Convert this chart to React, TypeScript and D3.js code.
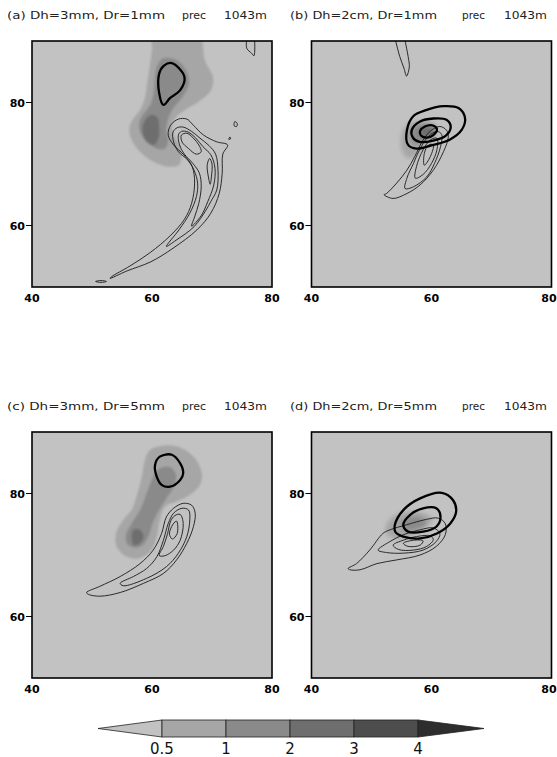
import React from "react";
import * as d3 from "d3";

type Pt = [number, number];

// ---------- axes / legend data ----------
const lonDomain: [number, number] = [40, 80];
const latDomain: [number, number] = [50, 90];
const lonTicks = [40, 60, 80];
const latTicks = [60, 80];
const shadeLevels = [0.5, 1, 2, 3, 4];
const shadeColors = ["#c2c2c2", "#a6a6a6", "#8a8a8a", "#6e6e6e", "#4d4d4d", "#2d2d2d"];
const panelTags = ["(a)", "(b)", "(c)", "(d)"];
const panelCases = ["Dh=3mm, Dr=1mm", "Dh=2cm, Dr=1mm", "Dh=3mm, Dr=5mm", "Dh=2cm, Dr=5mm"];
const fieldName = "prec";
const levelName = "1043m";

// ---------- panel (a) ----------
const aShade05: Pt[] = [[60.0,91],[67.8,91],[68.8,86.9],[70.2,83.9],[69.7,81.8],[67.7,80.1],[65.5,78.8],[63.8,77.4],[63.3,75.8],[63.8,74.4],[64.7,72.8],[64.9,70.9],[64.4,69.8],[62.4,69.6],[60.2,70.4],[58.0,72.0],[56.6,73.9],[56.2,75.8],[56.9,77.4],[58.0,78.8],[58.8,80.7],[59.2,83.1],[59.7,86.4],[60.0,89.0]];
const aShade1: Pt[] = [[61.9,87.2],[64.1,86.9],[65.8,85.0],[66.1,82.8],[64.9,80.7],[63.6,79.1],[62.7,77.4],[62.4,75.5],[62.7,73.6],[62.1,72.5],[60.8,72.5],[59.1,73.6],[58.0,75.3],[57.9,76.9],[58.6,78.2],[59.7,79.6],[60.3,81.8],[60.5,84.2],[60.9,86.1]];
const aShade2: Pt[] = [[59.9,78.0],[60.9,77.6],[61.2,76.1],[61.1,74.2],[60.3,73.1],[59.1,73.6],[58.4,75.3],[58.7,76.9]];
const aThick1: Pt[] = [[63.3,86.4],[65.4,84.2],[64.7,82.0],[63.0,80.7],[61.9,79.6],[61.2,81.5],[61.2,84.7],[62.0,86.0]];
const aThin1: Pt[] = [[53.0,51.4],[55.8,52.6],[59.8,54.1],[63.5,56.3],[67.5,59.3],[69.8,62.0],[71.2,65.2],[71.7,68.5],[71.8,71.6],[72.6,73.1],[70.8,73.6],[68.6,74.7],[66.9,76.3],[65.8,77.3],[64.4,77.3],[63.1,76.3],[62.7,74.7],[63.6,73.1],[65.3,71.5],[66.7,69.6],[67.1,66.9],[66.6,63.6],[65.4,61.0],[63.0,58.3],[59.7,55.6],[56.3,53.4],[53.3,51.7]];
const aThin2: Pt[] = [[62.4,56.6],[64.5,59.3],[66.3,62.0],[67.4,64.7],[67.6,66.9],[67.0,69.0],[65.9,70.7],[64.4,72.0],[63.6,73.6],[63.5,75.2],[64.2,75.9],[65.2,76.0],[66.6,75.3],[68.0,74.2],[69.5,73.0],[70.6,71.6],[71.0,69.0],[70.8,65.8],[69.8,63.9],[69.0,62.5],[67.0,59.8],[64.0,57.6]];
const aThin3: Pt[] = [[66.6,59.9],[67.1,61.4],[67.8,63.6],[68.2,66.3],[67.9,68.5],[66.8,70.1],[65.4,71.6],[64.6,73.1],[64.4,74.7],[64.9,75.3],[66.0,75.2],[67.3,74.2],[68.5,72.8],[69.8,71.5],[70.5,69.3],[70.3,66.6],[69.3,63.9],[68.2,61.6]];
const aThin4: Pt[] = [[64.9,74.7],[65.8,75.0],[66.9,74.2],[67.8,73.1],[68.2,72.0],[67.4,71.6],[66.1,72.5],[65.0,73.6]];
const aThin5: Pt[] = [[69.6,70.9],[70.0,70.0],[69.9,67.9],[69.7,66.7],[69.4,67.9],[69.2,69.8]];
const aThin6: Pt[] = [[50.6,50.9],[51.5,51.05],[52.4,50.9],[51.5,50.75]];
const aThin7: Pt[] = [[73.7,76.2],[73.8,76.9],[74.2,76.6],[74.1,76.1]];
const aThin8: Pt[] = [[72.8,74.0],[73.0,74.4],[73.1,74.1]];
const aOpen1: Pt[] = [[75.8,90.5],[75.8,88.8],[76.6,88.0],[77.0,87.6],[77.1,90.5]];

// ---------- panel (b) ----------
const bShade05: Pt[] = [[55.3,75.5],[56.6,76.7],[59.2,77.0],[60.9,76.1],[60.3,74.4],[58.6,73.1],[57.5,71.5],[56.1,70.9],[55.0,72.5]];
const bShade1: Pt[] = [[56.7,75.8],[58.6,76.5],[60.4,76.1],[60.2,74.7],[58.6,73.6],[57.2,73.1],[56.5,74.4]];
const bShade2: Pt[] = [[58.1,75.8],[59.5,76.1],[60.6,75.7],[60.2,74.7],[58.9,74.1],[58.1,74.7]];
const bThick1: Pt[] = [[55.9,75.5],[57.0,77.8],[59.2,78.8],[62.0,79.4],[64.5,79.1],[65.6,77.4],[65.0,75.5],[63.1,74.0],[60.3,73.1],[57.5,72.5],[56.1,73.1]];
const bThick2: Pt[] = [[56.7,75.5],[58.1,76.9],[60.3,77.4],[62.5,77.2],[63.2,76.0],[62.4,74.6],[60.3,73.8],[58.0,73.6],[56.9,74.3]];
const bThick3: Pt[] = [[58.1,75.4],[58.9,76.1],[60.1,76.3],[60.9,75.7],[60.3,74.7],[59.2,74.3],[58.2,74.7]];
const bThin1: Pt[] = [[52.1,65.0],[53.6,64.4],[55.9,65.2],[58.1,66.6],[60.3,69.0],[62.0,72.0],[62.8,74.4],[62.5,75.5],[61.4,76.1],[60.0,75.5],[58.6,73.9],[57.2,71.2],[55.9,69.0],[54.2,66.9],[52.5,65.2]];
const bThin2: Pt[] = [[55.6,66.0],[57.0,66.3],[59.2,67.9],[60.5,70.1],[61.5,72.8],[61.7,74.8],[60.9,75.3],[59.5,74.5],[58.1,72.5],[57.0,70.1],[55.9,67.7]];
const bThin3: Pt[] = [[57.3,67.7],[58.6,68.3],[60.0,70.1],[60.9,72.3],[60.9,74.2],[59.8,73.9],[58.6,72.3],[57.5,69.6]];
const bThin4: Pt[] = [[58.8,69.8],[59.8,71.2],[60.3,73.1],[59.5,73.1],[58.8,71.7]];
const bOpen1: Pt[] = [[53.9,90.5],[54.7,87.5],[55.4,85.6],[55.85,84.3],[56.3,85.8],[56.1,87.5],[55.5,90.5]];

// ---------- panel (c) ----------
const cShade05: Pt[] = [[59.7,87.1],[61.3,87.7],[64.1,87.7],[66.9,86.0],[68.3,83.3],[68.0,81.4],[66.3,79.8],[64.1,78.7],[62.2,77.9],[61.3,75.7],[60.8,73.0],[59.9,70.8],[58.0,69.5],[55.8,69.7],[54.1,71.4],[54.0,73.5],[55.2,75.7],[56.6,77.3],[57.4,79.5],[58.3,82.7],[58.8,85.4]];
const cShade1: Pt[] = [[61.3,84.1],[63.0,84.3],[64.0,83.0],[63.6,81.0],[62.4,79.2],[61.2,77.3],[60.1,75.1],[59.4,73.0],[58.4,71.6],[57.0,71.2],[55.8,71.9],[55.7,73.4],[56.6,75.1],[58.0,77.3],[59.1,80.0],[60.1,82.5]];
const cShade2: Pt[] = [[56.9,74.1],[58.0,74.1],[58.6,73.0],[58.0,71.9],[57.0,71.6],[56.6,72.7]];
const cThick1: Pt[] = [[60.5,84.6],[61.3,86.0],[63.3,86.3],[64.7,84.9],[65.2,83.3],[64.7,82.2],[63.0,81.1],[61.6,81.4],[60.8,82.7]];
const cThin1: Pt[] = [[49.1,63.9],[51.3,64.9],[54.7,66.5],[58.0,68.6],[60.2,70.8],[61.6,73.5],[62.4,76.2],[63.6,77.6],[65.2,78.4],[66.6,78.1],[67.2,76.8],[66.9,74.6],[65.8,71.9],[64.1,69.2],[61.9,67.0],[58.6,65.4],[54.7,63.9],[51.3,63.3],[49.4,63.6]];
const cThin2: Pt[] = [[54.7,65.4],[56.9,66.5],[59.1,67.8],[60.8,69.7],[61.9,72.4],[62.7,75.1],[63.6,76.8],[65.0,77.6],[66.1,77.3],[66.3,75.7],[65.8,73.0],[64.4,70.3],[62.4,68.1],[59.1,66.2],[55.2,65.0]];
const cThin3: Pt[] = [[61.2,69.9],[61.9,71.4],[62.6,73.5],[63.1,75.5],[63.8,76.4],[64.7,76.6],[65.2,75.1],[64.7,72.4],[63.6,70.8],[62.2,69.9]];
const cThin4: Pt[] = [[63.5,75.0],[64.1,75.5],[64.2,73.5],[63.4,72.6],[62.9,73.4]];

// ---------- panel (d) ----------
const dShade05: Pt[] = [[52.5,74.9],[53.6,76.2],[55.8,77.0],[58.6,76.8],[60.2,75.7],[58.1,74.1],[55.8,72.7],[53.6,72.7],[52.4,73.6]];
const dShade1: Pt[] = [[55.3,75.7],[57.0,76.2],[58.6,75.9],[59.2,74.9],[57.5,74.1],[55.6,74.1],[54.9,74.9]];
const dThick1: Pt[] = [[53.9,74.9],[55.3,77.3],[58.1,79.2],[61.7,80.1],[63.6,78.9],[64.1,77.0],[63.1,75.1],[60.9,73.5],[58.1,72.7],[55.3,73.0],[54.0,73.7]];
const dThick2: Pt[] = [[55.3,74.9],[56.4,76.5],[58.6,77.6],[60.8,77.6],[61.5,76.2],[60.8,74.6],[58.6,73.8],[56.1,73.8]];
const dThin1: Pt[] = [[46.1,67.8],[47.5,68.6],[49.7,70.8],[51.9,73.5],[53.1,74.1],[55.8,74.9],[59.2,75.8],[61.1,76.0],[62.3,75.1],[62.3,73.3],[60.8,71.4],[58.1,70.0],[54.2,69.2],[50.9,68.6],[48.1,67.6],[46.4,67.6]];
const dThin2: Pt[] = [[51.1,70.8],[53.1,72.2],[55.3,73.3],[58.1,74.1],[60.3,74.4],[61.4,73.5],[60.8,72.2],[58.6,70.8],[55.3,70.3],[52.5,70.4]];
const dThin3: Pt[] = [[53.6,71.6],[55.3,72.4],[57.5,73.0],[59.8,73.1],[60.3,72.5],[59.2,71.4],[57.0,70.8],[54.5,70.9]];
const dThin4: Pt[] = [[55.3,71.9],[57.0,72.4],[58.6,72.3],[58.1,71.6],[56.1,71.4]];

type PanelData = {
  shades: [number, Pt[]][];
  thick: Pt[][];
  thin: Pt[][];
  open: Pt[][];
};

const panels: PanelData[] = [
  { shades: [[0.5, aShade05], [1, aShade1], [2, aShade2]], thick: [aThick1], thin: [aThin1, aThin2, aThin3, aThin4, aThin5, aThin6, aThin7, aThin8], open: [aOpen1] },
  { shades: [[0.5, bShade05], [1, bShade1], [2, bShade2]], thick: [bThick1, bThick2, bThick3], thin: [bThin1, bThin2, bThin3, bThin4], open: [bOpen1] },
  { shades: [[0.5, cShade05], [1, cShade1], [2, cShade2]], thick: [cThick1], thin: [cThin1, cThin2, cThin3, cThin4], open: [] },
  { shades: [[0.5, dShade05], [1, dShade1]], thick: [dThick1, dThick2], thin: [dThin1, dThin2, dThin3, dThin4], open: [] },
];

// ---------- layout (not data) ----------
const SVG_W = 557;
const origins: [number, number][] = [[32, 41], [311.5, 41], [32, 432], [311.5, 432]];
const panelW = 240;
const panelH = 246;
const blurs = [1.0, 2.2, 1.0, 2.2];
const titleLayout = [
  { x: 7, y: 19, len: 158, px: 182, plen: 24, lx: 224, llen: 43 },
  { x: 290, y: 19, len: 147, px: 462, plen: 23, lx: 504, llen: 43 },
  { x: 7, y: 410, len: 158, px: 182, plen: 24, lx: 224, llen: 43 },
  { x: 290, y: 410, len: 147, px: 462, plen: 23, lx: 504, llen: 43 },
];

const fontFam = "'DejaVu Sans', sans-serif";

function levelColor(level: number) {
  const i = shadeLevels.indexOf(level);
  return shadeColors[i + 1];
}

function Panel({ idx }: { idx: number }) {
  const data = panels[idx];
  const [ox, oy] = origins[idx];
  const x = d3.scaleLinear().domain(lonDomain).range([ox, ox + panelW]);
  const y = d3.scaleLinear().domain(latDomain).range([oy + panelH, oy]);
  const closed = d3
    .line<Pt>()
    .x((d) => x(d[0]))
    .y((d) => y(d[1]))
    .curve(d3.curveCatmullRomClosed.alpha(0.5));
  const openLine = d3
    .line<Pt>()
    .x((d) => x(d[0]))
    .y((d) => y(d[1]))
    .curve(d3.curveCatmullRom.alpha(0.5));
  const clipId = `clip${idx}`;
  const blurId = `blur${idx}`;
  const t = titleLayout[idx];
  return (
    <g>
      <defs>
        <clipPath id={clipId}>
          <rect x={ox} y={oy} width={panelW} height={panelH} />
        </clipPath>
        <filter id={blurId} x="-30%" y="-30%" width="160%" height="160%">
          <feGaussianBlur stdDeviation={blurs[idx]} />
        </filter>
      </defs>
      <text x={t.x} y={t.y} fontFamily={fontFam} fontSize={11} fill="#222" textLength={t.len} lengthAdjust="spacingAndGlyphs">
        {panelTags[idx] + " " + panelCases[idx]}
      </text>
      <text x={t.px} y={t.y} fontFamily={fontFam} fontSize={11} fill="#222" textLength={t.plen} lengthAdjust="spacingAndGlyphs">
        {fieldName}
      </text>
      <text x={t.lx} y={t.y} fontFamily={fontFam} fontSize={11} fill="#222" textLength={t.llen} lengthAdjust="spacingAndGlyphs">
        {levelName}
      </text>
      <g clipPath={`url(#${clipId})`}>
        <rect x={ox} y={oy} width={panelW} height={panelH} fill={shadeColors[0]} />
        <g filter={`url(#${blurId})`}>
          {data.shades.map(([lev, pts], i) => (
            <path key={i} d={closed(pts) || ""} fill={levelColor(lev)} />
          ))}
        </g>
        {data.thin.map((pts, i) => (
          <path key={"t" + i} d={closed(pts) || ""} fill="none" stroke="#1a1a1a" strokeWidth={0.9} />
        ))}
        {data.open.map((pts, i) => (
          <path key={"o" + i} d={openLine(pts) || ""} fill="none" stroke="#1a1a1a" strokeWidth={0.9} />
        ))}
        {data.thick.map((pts, i) => (
          <path key={"k" + i} d={closed(pts) || ""} fill="none" stroke="#000" strokeWidth={2.3} />
        ))}
      </g>
      <rect x={ox} y={oy} width={panelW} height={panelH} fill="none" stroke="#000" strokeWidth={1.6} />
      {latTicks.map((v) => (
        <g key={"y" + v}>
          <line x1={ox - 6} x2={ox} y1={y(v)} y2={y(v)} stroke="#000" strokeWidth={1} />
          <text x={ox - 7} y={y(v) + 4} textAnchor="end" fontFamily={fontFam} fontWeight="bold" fontSize={11} fill="#000">
            {v}
          </text>
        </g>
      ))}
      {lonTicks.map((v) => (
        <text key={"x" + v} x={Math.min(x(v), SVG_W - 8)} y={oy + panelH + 15} textAnchor="middle" fontFamily={fontFam} fontWeight="bold" fontSize={11} fill="#000">
          {v}
        </text>
      ))}
    </g>
  );
}

function ColorBar() {
  const xs = d3.scalePoint<number>().domain(shadeLevels).range([162, 418]);
  const top = 720;
  const bot = 737;
  const mid = (top + bot) / 2;
  const first = xs(shadeLevels[0]) as number;
  const last = xs(shadeLevels[shadeLevels.length - 1]) as number;
  const step = xs.step();
  return (
    <g>
      <polygon points={`${first - 64},${mid} ${first},${top} ${first},${bot}`} fill={shadeColors[0]} stroke="#222" strokeWidth={0.8} />
      {shadeLevels.slice(0, -1).map((lev, i) => (
        <rect key={lev} x={xs(lev) as number} y={top} width={step} height={bot - top} fill={shadeColors[i + 1]} stroke="#222" strokeWidth={0.8} />
      ))}
      <polygon points={`${last},${top} ${last + 66},${mid} ${last},${bot}`} fill={shadeColors[shadeColors.length - 1]} stroke="#222" strokeWidth={0.8} />
      {shadeLevels.map((lev) => (
        <text key={"l" + lev} x={xs(lev) as number} y={754} textAnchor="middle" fontFamily={fontFam} fontSize={15} fill="#111">
          {lev}
        </text>
      ))}
    </g>
  );
}

export default function App() {
  return (
    <svg width={SVG_W} height={757} style={{ position: "absolute", left: 0, top: 0, background: "#fff" }}>
      <rect x={0} y={0} width={SVG_W} height={757} fill="#fff" />
      {panels.map((_, i) => (
        <Panel key={i} idx={i} />
      ))}
      <ColorBar />
    </svg>
  );
}
